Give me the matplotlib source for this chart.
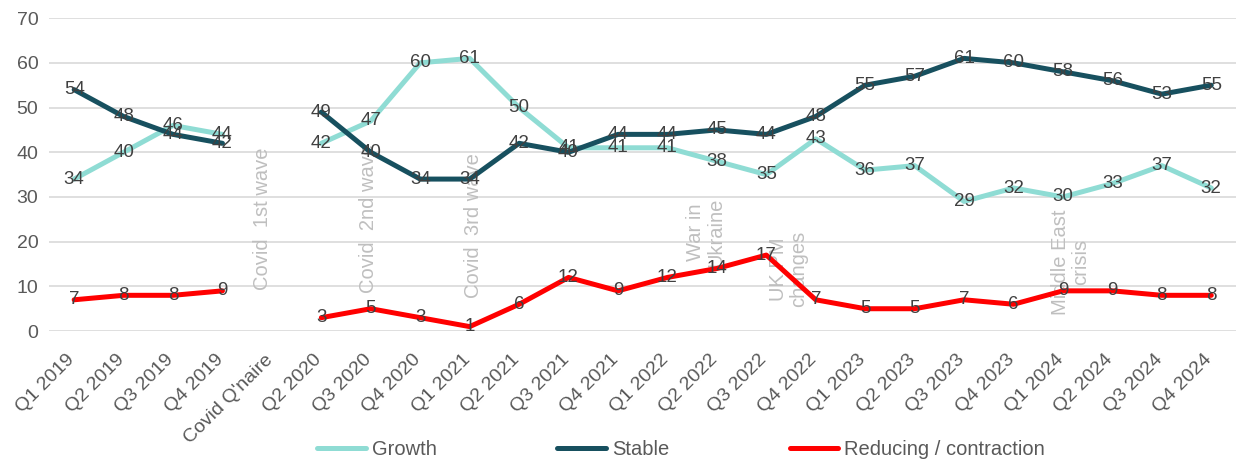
import numpy as np
import matplotlib
matplotlib.use("Agg")
import matplotlib.pyplot as plt
import matplotlib.transforms as mtrans

plt.rcParams['font.family'] = ['Liberation Sans', 'DejaVu Sans']

quarters = ["Q1 2019", "Q2 2019", "Q3 2019", "Q4 2019", "Covid Q'naire",
            "Q2 2020", "Q3 2020", "Q4 2020", "Q1 2021", "Q2 2021", "Q3 2021",
            "Q4 2021", "Q1 2022", "Q2 2022", "Q3 2022", "Q4 2022", "Q1 2023",
            "Q2 2023", "Q3 2023", "Q4 2023", "Q1 2024", "Q2 2024", "Q3 2024",
            "Q4 2024"]

nan = np.nan
growth = [34, 40, 46, 44, nan, 42, 47, 60, 61, 50, 41, 41, 41, 38, 35, 43,
          36, 37, 29, 32, 30, 33, 37, 32]
stable = [54, 48, 44, 42, nan, 49, 40, 34, 34, 42, 40, 44, 44, 45, 44, 48,
          55, 57, 61, 60, 58, 56, 53, 55]
reducing = [7, 8, 8, 9, nan, 3, 5, 3, 1, 6, 12, 9, 12, 14, 17, 7,
            5, 5, 7, 6, 9, 9, 8, 8]

# event notes: (text, x position in category units, y baseline)
events = [("Covid  1st wave", 3.8, 9.2),
          ("Covid  2nd wave", 5.95, 8.5),
          ("Covid  3rd wave", 8.08, 7.4),
          ("War in\nUkraine", 12.78, 14.3),
          ("UK PM\nchanges", 14.45, 5.4),
          ("Middle East\ncrisis", 20.15, 3.6)]

series = [("Growth", growth, "#8fdcd4"),
          ("Stable", stable, "#17505f"),
          ("Reducing / contraction", reducing, "#ff0000")]

fig = plt.figure(figsize=(12.36, 4.65), dpi=100)
ax = fig.add_axes([0.04, 0.288, 0.96, 0.673])

x = np.arange(len(quarters))
for name, vals, col in series:
    ax.plot(x, vals, color=col, lw=3.6, label=name, solid_capstyle='round', zorder=3)

for txt, xp, yp in events:
    ax.text(xp, yp, txt, rotation=90, ha='center', va='bottom', color='#bfbfbf',
            fontsize=14.5, multialignment='center', linespacing=1.1, zorder=2)

for name, vals, col in series:
    for i, v in enumerate(vals):
        if not np.isnan(v):
            ax.text(i, v, "%d" % v, ha='center', va='center', color='#404040',
                    fontsize=13.5, zorder=4)

ax.set_xlim(-0.5, len(quarters) - 0.5)
ax.set_ylim(0, 70)
ax.set_yticks(range(0, 71, 10))
ax.set_xticks(x)
ax.set_xticklabels(quarters, rotation=45, ha='right', rotation_mode='anchor')
ax.tick_params(axis='both', length=0, labelsize=14, labelcolor='#595959')
ax.tick_params(axis='y', pad=8)
ax.tick_params(axis='x', pad=11)
# nudge the slanted labels so their ends sit just under each category
shift = mtrans.ScaledTranslation(-8 / 100, -5 / 100, fig.dpi_scale_trans)
for lbl in ax.get_xticklabels():
    lbl.set_transform(lbl.get_transform() + shift)
ax.grid(axis='y', color='#d9d9d9', lw=1.2, zorder=0)
for s in ax.spines.values():
    s.set_visible(False)

fig.legend(loc='center', bbox_to_anchor=(0.551, 0.034), ncol=3, frameon=False,
           fontsize=14.5, handlelength=2.4, columnspacing=6.0, handletextpad=0.3,
           labelcolor='#595959')

fig.savefig("out.png", dpi=100)
